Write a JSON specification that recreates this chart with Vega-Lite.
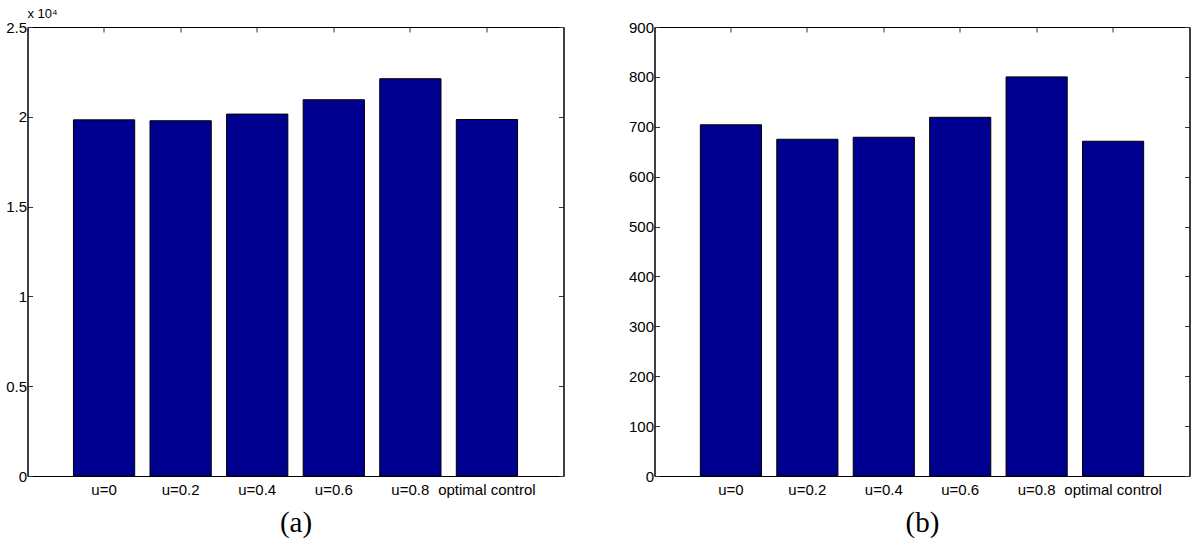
{
  "$schema": "https://vega.github.io/schema/vega-lite/v6.json",
  "background": "white",
  "padding": {"left": 4.5, "top": 7, "right": 0, "bottom": 0},
  "data": {
    "values": [
      {"setting": "u=0", "a": 19830, "b": 704},
      {"setting": "u=0.2", "a": 19780, "b": 675},
      {"setting": "u=0.4", "a": 20150, "b": 679},
      {"setting": "u=0.6", "a": 20950, "b": 719},
      {"setting": "u=0.8", "a": 22120, "b": 800},
      {"setting": "optimal control", "a": 19850, "b": 671}
    ]
  },
  "hconcat": [
    {
      "width": 536,
      "height": 449,
      "title": {"text": "x 10⁴", "anchor": "start", "frame": "group", "fontSize": 13, "fontWeight": "normal", "font": "Liberation Sans", "color": "black", "offset": -1, "dx": 0},
      "layer": [
        {
          "mark": {"type": "bar", "color": "#00008F", "stroke": "black", "strokeWidth": 1},
          "encoding": {
            "x": {"field": "setting", "type": "ordinal", "sort": null,
              "scale": {"paddingInner": 0.2, "paddingOuter": 0.6},
              "axis": {"orient": "bottom", "labelAngle": 0, "title": "(a)", "labelOverlap": false, "labelPadding": 11}},
            "y": {"field": "a", "type": "quantitative",
              "scale": {"domain": [0, 25000], "nice": false},
              "axis": {"orient": "left", "values": [0, 5000, 10000, 15000, 20000, 25000], "labelExpr": "format(datum.value / 10000, '~g')", "title": null}}
          }
        },
        {
          "mark": {"type": "bar", "opacity": 0},
          "encoding": {
            "x": {"field": "setting", "type": "ordinal", "sort": null,
              "axis": {"orient": "top", "labels": false, "title": null, "labelPadding": 0}},
            "y": {"field": "a", "type": "quantitative",
              "axis": {"orient": "right", "labels": false, "title": null, "labelPadding": 0, "values": [0, 5000, 10000, 15000, 20000, 25000]}}
          }
        }
      ],
      "resolve": {"axis": {"x": "independent", "y": "independent"}}
    },
    {
      "width": 535,
      "height": 449,
      "layer": [
        {
          "mark": {"type": "bar", "color": "#00008F", "stroke": "black", "strokeWidth": 1},
          "encoding": {
            "x": {"field": "setting", "type": "ordinal", "sort": null,
              "scale": {"paddingInner": 0.2, "paddingOuter": 0.6},
              "axis": {"orient": "bottom", "labelAngle": 0, "title": "(b)", "labelOverlap": false, "labelPadding": 11}},
            "y": {"field": "b", "type": "quantitative",
              "scale": {"domain": [0, 900], "nice": false},
              "axis": {"orient": "left", "values": [0, 100, 200, 300, 400, 500, 600, 700, 800, 900], "title": null}}
          }
        },
        {
          "mark": {"type": "bar", "opacity": 0},
          "encoding": {
            "x": {"field": "setting", "type": "ordinal", "sort": null,
              "axis": {"orient": "top", "labels": false, "title": null, "labelPadding": 0}},
            "y": {"field": "b", "type": "quantitative",
              "axis": {"orient": "right", "labels": false, "title": null, "labelPadding": 0, "values": [0, 100, 200, 300, 400, 500, 600, 700, 800, 900]}}
          }
        }
      ],
      "resolve": {"axis": {"x": "independent", "y": "independent"}}
    }
  ],
  "spacing": 91,
  "bounds": "flush",
  "config": {
    "view": {"stroke": "black", "strokeWidth": 1},
    "axis": {
      "grid": false,
      "domainColor": "black",
      "domainWidth": 1,
      "tickColor": "#333333",
      "tickSize": -5,
      "labelPadding": 6,
      "labelFont": "Liberation Sans",
      "labelFontSize": 15,
      "labelColor": "black",
      "titleFont": "Liberation Serif",
      "titleFontSize": 29,
      "titleFontWeight": "normal",
      "titleColor": "black",
      "titlePadding": 11
    }
  }
}
